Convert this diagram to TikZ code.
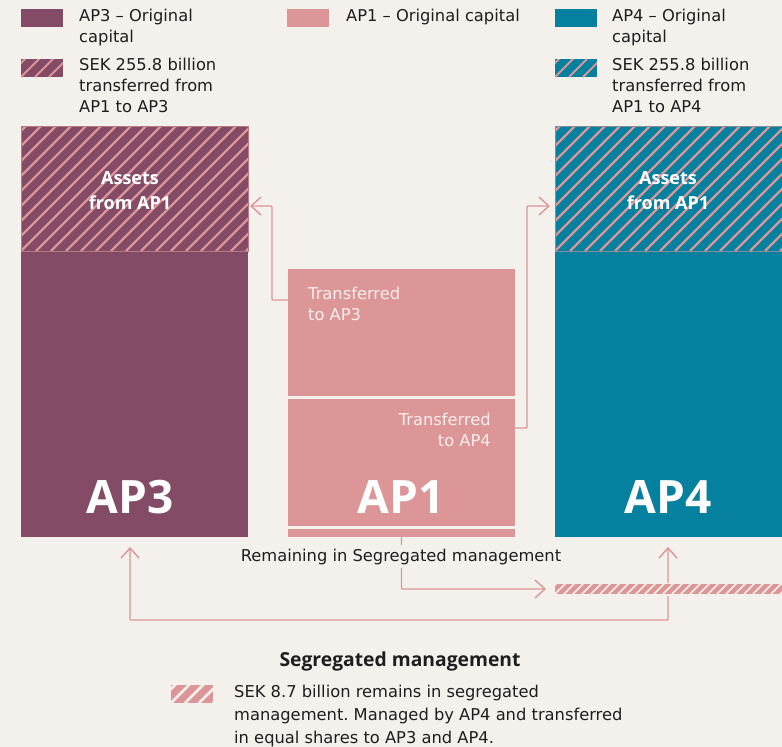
\documentclass[tikz,border=0pt]{standalone}
\usepackage{fontspec}
\setmainfont{DejaVu Sans}
\newfontfamily\headfont{Open Sans}
\usetikzlibrary{arrows.meta,calc}
\frenchspacing

\definecolor{paper}{HTML}{F4F1EC}
\definecolor{plum}{HTML}{834B66}
\definecolor{rose}{HTML}{DC9697}
\definecolor{petrol}{HTML}{05809F}
\definecolor{ink}{HTML}{1E1E1E}
\definecolor{blush}{HTML}{FAEEEC}

\pgfdeclarelayer{canvas}
\pgfdeclarelayer{wires}
\pgfsetlayers{canvas,wires,main}

\tikzset{
  block/.style={inner sep=0pt, outer sep=0pt, anchor=north west, draw=none},
  % diagonal hatching: colour, stroke width, horizontal spacing
  hatched/.style n args={3}{
    path picture={
      \foreach \k in {-45,...,45}
        \draw[#1, line width=#2] ([xshift={\k*#3}]path picture bounding box.south west) -- ++(420,-420);
    }},
  % multi-line texts are placed by the baseline of their last line
  legendtext/.style={inner sep=0pt, anchor=base west, align=left, text=ink,
    font=\fontsize{16.3}{21}\selectfont},
  paletext/.style={inner sep=0pt, text=blush, font=\fontsize{16.3}{21}\selectfont},
  assets/.style={inner sep=0pt, anchor=base, align=center, text=white,
    font=\headfont\fontsize{18}{25}\selectfont\bfseries},
  bigname/.style={inner sep=0pt, anchor=base, text=white,
    font=\headfont\fontsize{46}{50}\selectfont\bfseries},
  link/.style={draw=rose, line width=1.4pt, rounded corners=1pt, -{Straight Barb[length=10pt, width=18pt]}},
}

\begin{document}
\begin{tikzpicture}[x=1pt, y=-1pt]
\begin{pgfonlayer}{canvas}
\fill[paper] (0,0) rectangle (782,747);
\end{pgfonlayer}
\useasboundingbox (0,0) rectangle (782,747);

% ---------- legend ----------
\node[block, fill=plum, minimum width=42, minimum height=18] (k3) at (21,9) {};
\node[legendtext] (t3) at (79,42) {AP3 – Original\\capital};
\node[block, fill=plum, hatched={rose}{2}{14}, minimum width=42, minimum height=18] (k3h) at (21,59) {};
\node[legendtext] (t3h) at (79,112) {SEK 255.8 billion\\transferred from\\AP1 to AP3};

\node[block, fill=rose, minimum width=42, minimum height=18] (k1) at (287,9) {};
\node[legendtext] (t1) at (346,21) {AP1 – Original capital};

\node[block, fill=petrol, minimum width=42, minimum height=18] (k4) at (555,9) {};
\node[legendtext] (t4) at (612,42) {AP4 – Original\\capital};
\node[block, fill=petrol, hatched={rose}{2}{14}, minimum width=42, minimum height=18] (k4h) at (555,59) {};
\node[legendtext] (t4h) at (612,112) {SEK 255.8 billion\\transferred from\\AP1 to AP4};

% ---------- AP3 ----------
\node[block, fill=plum, minimum width=227, minimum height=411] (ap3) at (21,126) {};
\node[block, fill=plum, draw=rose!60!plum, line width=0.6pt, hatched={rose}{2.4}{15},
      minimum width=227, minimum height=125] (ap3in) at (21,126) {};
\node[assets] (ap3as) at (130,209) {Assets\\from AP1};
\node[bigname] (ap3nm) at (130,513) {AP3};

% ---------- AP1 ----------
\node[block, fill=rose, minimum width=227, minimum height=127] (ap1a) at (288,269) {};
\node[block, fill=rose, minimum width=227, minimum height=127] (ap1b) at (288,399) {};
\node[block, fill=rose, minimum width=227, minimum height=8] (ap1c) at (288,529) {};
\node[paletext, anchor=base west, align=left] (tr3) at (308,320) {Transferred\\to AP3};
\node[paletext, anchor=base east, align=right] (tr4) at (491,446) {Transferred\\to AP4};
\node[bigname] (ap1nm) at (401,513) {AP1};

% ---------- AP4 ----------
\node[block, fill=petrol, minimum width=227, minimum height=411] (ap4) at (555,126) {};
\node[block, fill=petrol, draw=rose!60!petrol, line width=0.6pt, hatched={rose}{2.4}{15},
      minimum width=227, minimum height=125] (ap4in) at (555,126) {};
\node[assets] (ap4as) at (668,209) {Assets\\from AP1};
\node[bigname] (ap4nm) at (668,513) {AP4};

% ---------- segregated management strip ----------
\node[block, fill=rose, hatched={paper}{1.6}{9}, minimum width=227, minimum height=10] (seg) at (555,584) {};

% ---------- connectors ----------
\coordinate (inAP3) at ($(ap3in.east |- 0,206)+(2,0)$);
\coordinate (inAP4) at ($(ap4in.west |- 0,206)+(-5,0)$);
\coordinate (inSeg) at ($(seg.west)+(-9,0)$);
\coordinate (ap3foot) at (130,547);
\coordinate (ap4foot) at (668,547);

\begin{pgfonlayer}{wires}
\draw[link] (ap1a.west |- 0,300) -- ++(-16,0) |- (inAP3);
\draw[link] (ap1b.east |- 0,428) -- ++(12,0) |- (inAP4);
\draw[link] (ap1c.south) |- (inSeg);
\draw[link, {Straight Barb[length=10pt, width=18pt]}-{Straight Barb[length=10pt, width=18pt]}]
  (ap3foot) |- (668,620) -- (ap4foot);
\end{pgfonlayer}
\draw[draw=paper, line width=3pt] (seg.north west) rectangle (seg.south east);
\fill[rose, hatched={paper}{1.6}{9}] (seg.north west) rectangle (seg.south east);

\node[inner xsep=2pt, inner ysep=4pt, fill=paper, anchor=base, text=ink,
      font=\fontsize{16.3}{21}\selectfont] (remain) at (401,561) {Remaining in Segregated management};

% ---------- segregated management key ----------
\node[anchor=base, inner sep=0pt, text=ink, font=\headfont\fontsize{19.3}{21}\selectfont\bfseries]
  (segtitle) at (400,666) {Segregated management};
\node[block, fill=rose, hatched={paper}{2.6}{14}, minimum width=42, minimum height=18] (kseg) at (171,685) {};
\node[legendtext, font=\fontsize{16.3}{23}\selectfont] (tseg) at (234,743)
  {SEK 8.7 billion remains in segregated\\management. Managed by AP4 and transferred\\in equal shares to AP3 and AP4.};
\end{tikzpicture}
\end{document}
